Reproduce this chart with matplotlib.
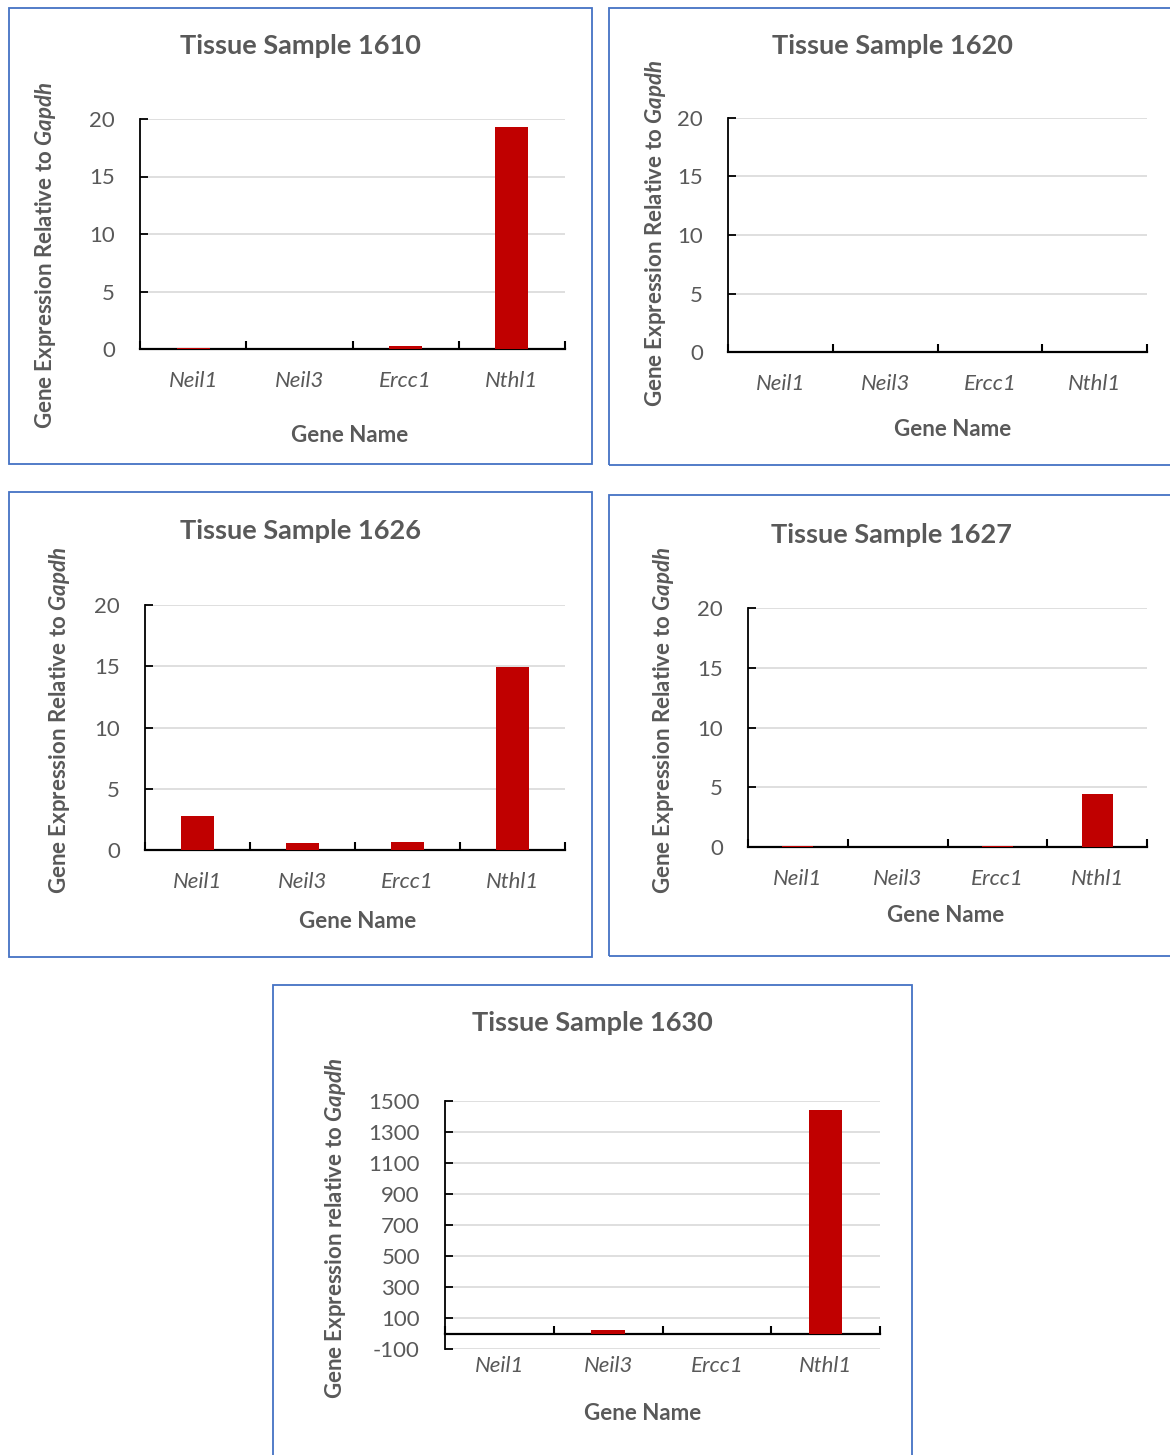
import matplotlib
matplotlib.use('Agg')
import matplotlib.pyplot as plt
from matplotlib.patches import Rectangle
import numpy as np

plt.rcParams['font.family'] = ['Lato', 'DejaVu Sans']
plt.rcParams['mathtext.fontset'] = 'custom'
plt.rcParams['mathtext.bfit'] = 'Lato:italic:bold'
plt.rcParams['mathtext.it'] = 'Lato:italic'
plt.rcParams['mathtext.rm'] = 'Lato'
plt.rcParams['axes.unicode_minus'] = False

# data
genes = ['Neil1', 'Neil3', 'Ercc1', 'Nthl1']
s1610 = [0.08, 0.0, 0.26, 19.3]
s1620 = [0.0, 0.0, 0.0, 0.03]
s1626 = [2.78, 0.6, 0.65, 14.9]
s1627 = [0.12, 0.0, 0.1, 4.43]
s1630 = [0.0, 23.0, 0.0, 1442.0]

samples = ['1610', '1620', '1626', '1627', '1630']
values = [s1610, s1620, s1626, s1627, s1630]

W, H = 1170, 1455
GRAY = '#595959'
RED = '#C00000'
BLUE = '#4472C4'

# layout in pixels: frame box, axes box (x0, y_top, x1, y_bottom), text spots
panels = [
    dict(frame=(9, 8, 592, 464), ax=(140, 119, 565, 349), title=(300, 46),
         ylab=(46, 255), xlab=(350, 435), lim=(0, 20), ticks=np.arange(0, 21, 5), pad=16),
    dict(frame=(609, 8, 1175, 465), ax=(728, 118, 1147, 352), title=(892, 46),
         ylab=(655, 233), xlab=(953, 430), lim=(0, 20), ticks=np.arange(0, 21, 5), pad=16),
    dict(frame=(9, 492, 592, 957), ax=(145, 605, 565, 850), title=(300, 531),
         ylab=(60, 720), xlab=(358, 921), lim=(0, 20), ticks=np.arange(0, 21, 5), pad=16),
    dict(frame=(609, 495, 1175, 956), ax=(748, 608, 1147, 847), title=(891, 535),
         ylab=(664, 720), xlab=(946, 915), lim=(0, 20), ticks=np.arange(0, 21, 5), pad=16),
    dict(frame=(273, 985, 912, 1460), ax=(445, 1101, 880, 1349), title=(592, 1023),
         ylab=(335, 1228), xlab=(643, 1413), lim=(-100, 1500),
         ticks=np.arange(-100, 1501, 200), pad=5),
]

fig = plt.figure(figsize=(W / 100, H / 100), dpi=100)

def fx(x):
    return x / W

def fy(y):
    return 1 - y / H

for name, vals, p in zip(samples, values, panels):
    x0, y0, x1, y1 = p['frame']
    fig.patches.append(Rectangle((fx(x0), fy(y1)), fx(x1 - x0), (y1 - y0) / H,
                                 transform=fig.transFigure, fill=False,
                                 edgecolor=BLUE, linewidth=1.3))
    a0, at, a1, ab = p['ax']
    ax = fig.add_axes([fx(a0), fy(ab), fx(a1 - a0), (ab - at) / H])
    xs = np.arange(len(genes))
    ax.bar(xs, vals, width=0.31, color=RED, zorder=3)
    ax.set_xlim(-0.5, len(genes) - 0.5)
    ax.set_ylim(*p['lim'])
    ax.set_yticks(p['ticks'])
    ax.yaxis.grid(True, color='#D9D9D9', linewidth=1.2, zorder=0)
    ax.set_axisbelow(True)
    for s in ['top', 'right']:
        ax.spines[s].set_visible(False)
    ax.spines['left'].set_color('black')
    ax.spines['bottom'].set_color('black')
    ax.spines['left'].set_linewidth(1.3)
    ax.spines['bottom'].set_linewidth(1.6)
    ax.tick_params(axis='y', direction='in', length=6, width=1.3,
                   labelsize=16, labelcolor=GRAY, pad=18)
    ax.set_xticks(np.arange(-0.5, len(genes), 1.0))
    ax.set_xticklabels([])
    ax.tick_params(axis='x', direction='in', length=6, width=1.5)
    if p['lim'][0] < 0:
        ax.spines['bottom'].set_position(('data', 0))
    sec = ax.secondary_xaxis(0)
    sec.set_xticks(xs)
    sec.set_xticklabels(genes, fontstyle='italic', fontsize=16, color=GRAY)
    sec.tick_params(length=0, pad=p['pad'])
    sec.spines['bottom'].set_visible(False)

    tx, ty = p['title']
    fig.text(fx(tx), fy(ty), f'Tissue Sample {name}', ha='center', va='center',
             fontsize=19.5, fontweight='bold', color=GRAY)
    lx, ly = p['ylab']
    word = 'relative' if name == '1630' else 'Relative'
    fig.text(fx(lx), fy(ly), f'Gene Expression {word} to ' + r'$\mathbfit{Gapdh}$',
             rotation=90, ha='center', va='center', fontsize=16,
             fontweight='bold', color=GRAY)
    gx, gy = p['xlab']
    fig.text(fx(gx), fy(gy), 'Gene Name', ha='center', va='center',
             fontsize=16, fontweight='bold', color=GRAY)

fig.savefig('out.png', dpi=100)
